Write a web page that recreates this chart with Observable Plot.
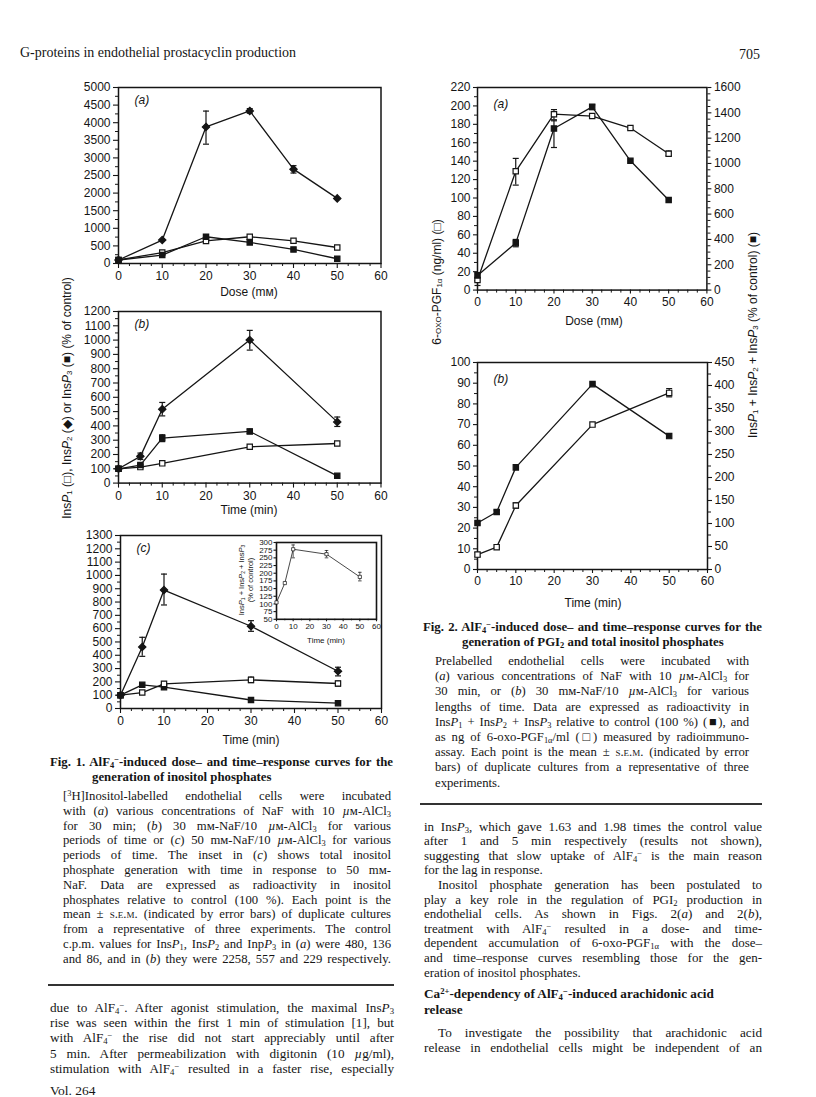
<!DOCTYPE html>
<html><head><meta charset="utf-8">
<script src="https://cdn.jsdelivr.net/npm/d3@7"></script>
<script src="https://cdn.jsdelivr.net/npm/@observablehq/plot@0.6"></script>
<style>
html,body{margin:0;padding:0;background:#fff;}
#page{position:relative;width:816px;height:1097px;overflow:hidden;background:#fff;}
.t{position:absolute;white-space:nowrap;font-family:"Liberation Serif","Times New Roman",serif;color:#151515;line-height:12px;}
.j{white-space:normal;text-align:justify;text-align-last:justify;}
.lab{position:absolute;font-family:"Liberation Sans",Arial,sans-serif;font-size:12px;white-space:nowrap;color:#151515;transform:translate(-50%,-50%);text-align:center;line-height:13px;}
.rot{transform:translate(-50%,-50%) rotate(-90deg);}
sub,sup{font-size:66%;line-height:0;}
sub{vertical-align:-0.22em;}
sup{vertical-align:0.42em;}
.sc{font-variant:small-caps;}
.rule{position:absolute;height:1.6px;background:#333;}
</style>
</head><body><div id="page"></div>
<script>
// ---------------- DATA ----------------
// Fig. 1(a): dose of NaF (mM) vs % of control
const fig1aDose = [0, 10, 20, 30, 40, 50];
const fig1aInsP1 = [100, 310, 640, 760, 645, 455];
const fig1aInsP2 = [100, 665, 3880, 4335, 2680, 1850];
const fig1aInsP3 = [100, 240, 760, 600, 400, 135];
const fig1aInsP2Err = [null, null, [3390, 4330], [4270, 4400], [2570, 2780], null];
const fig1aInsP3Err = [null, null, [705, 810], null, null, null];

// Fig. 1(b): time (min)
const fig1bTime = [0, 5, 10, 30, 50];
const fig1bInsP1 = [100, 112, 138, 254, 277];
const fig1bInsP2 = [100, 187, 517, 1000, 428];
const fig1bInsP3 = [100, 126, 315, 361, 51];
const fig1bInsP2Err = [null, [165, 210], [470, 564], [930, 1068], [396, 462]];
const fig1bInsP3Err = [null, [110, 140], [290, 338], [347, 378], null];

// Fig. 1(c): time (min)
const fig1cTime = [0, 5, 10, 30, 50];
const fig1cInsP1 = [100, 120, 185, 215, 188];
const fig1cInsP2 = [100, 462, 890, 618, 280];
const fig1cInsP3 = [100, 178, 160, 64, 40];
const fig1cInsP1Err = [null, null, [170, 200], [195, 236], [168, 206]];
const fig1cInsP2Err = [null, [392, 535], [778, 1010], [580, 660], [245, 310]];

// Fig. 1(c) inset: total InsP (% of control)
const insetTime = [0, 5, 10, 30, 50];
const insetTotal = [105, 168, 278, 262, 188];
const insetTotalErr = [null, null, [250, 292], [250, 274], [175, 203]];

// Fig. 2(a): dose (mM); 6-oxo-PGF1a (ng/ml) and total InsP (% of control)
const fig2aDose = [0, 10, 20, 30, 40, 50];
const fig2aOxo = [11, 129, 191, 189, 176, 148];
const fig2aOxoErr = [[5, 19], [114, 143], [185, 196], null, null, [146, 151]];
const fig2aInsP = [116, 371, 1276, 1447, 1021, 711];
const fig2aInsPErr = [null, [342, 400], [1126, 1337], [1426, 1463], null, null];

// Fig. 2(b): time (min)
const fig2bTime = [0, 5, 10, 30, 50];
const fig2bOxo = [7.2, 10.8, 30.9, 70, 85.3];
const fig2bOxoErr = [[6.1, 8.2], null, [29.6, 32.2], null, [83.4, 87.4]];
const fig2bInsP = [101, 125, 222, 403, 290];
const fig2bInsPErr = [null, [120, 129], null, null, null];

// Axis ticks
const fig1aYTicks = d3.range(0, 5001, 500);
const fig1bYTicks = d3.range(0, 1201, 100);
const fig1cYTicks = d3.range(0, 1301, 100);
const insetYTicks = d3.range(50, 301, 25);
const xTicks60 = d3.range(0, 61, 10);
const fig2aLeftTicks = d3.range(0, 221, 20);
const fig2aRightTicks = d3.range(0, 1601, 200);
const fig2bLeftTicks = d3.range(0, 101, 10);
const fig2bRightTicks = d3.range(0, 451, 50);

// ---------------- HELPERS ----------------
const page = document.getElementById("page");
const INK = "#151515";
const cap = {draw(ctx, size) { const w = Math.sqrt(size) / 2; ctx.moveTo(-w, 0); ctx.lineTo(w, 0); }};

function rows(xs, ys, errs) {
  return xs.map((x, i) => ({x, y: ys[i], lo: errs && errs[i] ? errs[i][0] : null, hi: errs && errs[i] ? errs[i][1] : null}));
}
function series(xs, ys, errs, kind, s = 1) {
  const data = rows(xs, ys, errs);
  const ed = data.filter(d => d.lo != null);
  const sym = kind === "diamond" ? "diamond2" : "square";
  return [
    Plot.line(data, {x: "x", y: "y", stroke: INK, strokeWidth: 1.3 * s}),
    Plot.ruleX(ed, {x: "x", y1: "lo", y2: "hi", stroke: INK, strokeWidth: 1.2 * s}),
    Plot.dot(ed, {x: "x", y: "lo", symbol: cap, r: 3.4 * s, fill: "none", stroke: INK, strokeWidth: 1.2 * s}),
    Plot.dot(ed, {x: "x", y: "hi", symbol: cap, r: 3.4 * s, fill: "none", stroke: INK, strokeWidth: 1.2 * s}),
    Plot.dot(data, {x: "x", y: "y", symbol: sym, r: (kind === "diamond" ? 3.3 : 3.0) * s,
      fill: kind === "open" ? "white" : INK, stroke: INK, strokeWidth: 1.2 * s})
  ];
}
const ML = 45, MR = 45, MT = 10, MB = 30;
const fmt = d => String(d);
function minorOf(major, n) {
  const out = [];
  for (let i = 0; i < major.length - 1; i++) {
    const a = major[i], b = major[i + 1];
    for (let k = 1; k < n; k++) out.push(a + (b - a) * k / n);
  }
  return out;
}
function panel(o) {
  const w = o.x1 - o.x0, h = o.y1 - o.y0;
  const fs = o.fontSize || 12;
  const tk = o.tick || 5, mt = o.minorTick || 3;
  const marks = [];
  if (o.frame !== false) marks.push(Plot.frame({stroke: INK, strokeWidth: o.frameWidth || 1.5}));
  if (o.xAxis !== false) {
    marks.push(Plot.axisX({ticks: o.xMajor, tickSize: tk, tickPadding: o.tickPad || 3, tickFormat: fmt, label: null, fontSize: fs, stroke: INK, strokeWidth: 1.1}));
    marks.push(Plot.axisX({ticks: minorOf(o.xMajor, o.xMinorN || 4), tickSize: mt, tickFormat: () => "", label: null, stroke: INK}));
  }
  marks.push(Plot.axisY({ticks: o.yMajor, anchor: o.yAnchor || "left", tickSize: tk, tickPadding: o.tickPad || 3, tickFormat: fmt, label: null, fontSize: fs, stroke: INK, strokeWidth: 1.1}));
  if (o.yMinorN !== 1) marks.push(Plot.axisY({ticks: minorOf(o.yMajor, o.yMinorN || 2), anchor: o.yAnchor || "left", tickSize: mt, tickFormat: () => "", label: null, stroke: INK}));
  if (o.label) marks.push(Plot.text([o.label], {text: d => d, frameAnchor: "top-left", dx: o.labelDx || 16, dy: o.labelDy || 8,
    textAnchor: "start", lineAnchor: "top", fontStyle: "italic", fontSize: 12, fill: INK}));
  marks.push(...o.marks);
  const p = Plot.plot({
    width: w + ML + MR, height: h + MT + MB,
    marginLeft: ML, marginRight: MR, marginTop: MT, marginBottom: MB,
    x: {domain: o.xDomain, ...(o.xAxis === false ? {axis: null} : {})},
    y: {domain: o.yDomain},
    style: {fontFamily: "'Liberation Sans', Arial, sans-serif", fontSize: fs + "px", background: "transparent", color: INK, overflow: "visible"},
    marks
  });
  p.style.position = "absolute";
  p.style.left = (o.x0 - ML) + "px";
  p.style.top = (o.y0 - MT) + "px";
  p.style.maxWidth = "none";
  page.appendChild(p);
  return p;
}

// ---------------- FIG. 1 ----------------
panel({x0: 117.5, x1: 380, y0: 86.7, y1: 262.7, xDomain: [0, 60], yDomain: [0, 5000],
  xMajor: xTicks60, yMajor: fig1aYTicks, label: "(a)",
  marks: [
    ...series(fig1aDose, fig1aInsP1, null, "open"),
    ...series(fig1aDose, fig1aInsP3, fig1aInsP3Err, "filled"),
    ...series(fig1aDose, fig1aInsP2, fig1aInsP2Err, "diamond")
  ]});
panel({x0: 117.5, x1: 380, y0: 310.7, y1: 482.3, xDomain: [0, 60], yDomain: [0, 1200],
  xMajor: xTicks60, yMajor: fig1bYTicks, label: "(b)",
  marks: [
    ...series(fig1bTime, fig1bInsP1, null, "open"),
    ...series(fig1bTime, fig1bInsP3, fig1bInsP3Err, "filled"),
    ...series(fig1bTime, fig1bInsP2, fig1bInsP2Err, "diamond")
  ]});
panel({x0: 119.5, x1: 380.5, y0: 535, y1: 708, xDomain: [0, 60], yDomain: [0, 1300],
  xMajor: xTicks60, yMajor: fig1cYTicks, label: "(c)",
  marks: [
    ...series(fig1cTime, fig1cInsP3, null, "filled"),
    ...series(fig1cTime, fig1cInsP1, fig1cInsP1Err, "open"),
    ...series(fig1cTime, fig1cInsP2, fig1cInsP2Err, "diamond")
  ]});
// inset
panel({x0: 276, x1: 376, y0: 541.5, y1: 618.3, xDomain: [0, 60], yDomain: [50, 300],
  xMajor: xTicks60, yMajor: insetYTicks, fontSize: 8, tick: 2.5, minorTick: 1.5, tickPad: 1.5, xMinorN: 2, yMinorN: 1,
  frameWidth: 1.6,
  marks: [...series(insetTime, insetTotal, insetTotalErr, "open", 0.6)]});

// ---------------- FIG. 2 ----------------
panel({x0: 477.3, x1: 706.7, y0: 86.7, y1: 289.3, xDomain: [0, 60], yDomain: [0, 220],
  xMajor: xTicks60, yMajor: fig2aLeftTicks, label: "(a)", labelDy: 12, tick: 4, tickPad: 3,
  marks: [...series(fig2aDose, fig2aOxo, fig2aOxoErr, "open")]});
panel({x0: 477.3, x1: 706.7, y0: 86.7, y1: 289.3, xDomain: [0, 60], yDomain: [0, 1600],
  xAxis: false, frame: false, yAnchor: "right", yMajor: fig2aRightTicks, yMinorN: 4, tick: 4, tickPad: 3,
  marks: [...series(fig2aDose, fig2aInsP, fig2aInsPErr, "filled")]});
panel({x0: 477.3, x1: 707.3, y0: 362.3, y1: 569.3, xDomain: [0, 60], yDomain: [0, 100],
  xMajor: xTicks60, yMajor: fig2bLeftTicks, label: "(b)", labelDy: 12, tick: 4, tickPad: 3,
  marks: [...series(fig2bTime, fig2bOxo, fig2bOxoErr, "open")]});
panel({x0: 477.3, x1: 707.3, y0: 362.3, y1: 569.3, xDomain: [0, 60], yDomain: [0, 450],
  xAxis: false, frame: false, yAnchor: "right", yMajor: fig2bRightTicks, yMinorN: 2, tick: 4, tickPad: 3,
  marks: [...series(fig2bTime, fig2bInsP, fig2bInsPErr, "filled")]});

// ---------------- AXIS TITLES ----------------
function lab(html, cx, cy, opts = {}) {
  const d = document.createElement("div");
  d.className = "lab" + (opts.rot ? " rot" : "");
  d.innerHTML = html;
  d.style.left = cx + "px"; d.style.top = cy + "px";
  if (opts.fs) d.style.fontSize = opts.fs + "px";
  if (opts.lh) d.style.lineHeight = opts.lh + "px";
  page.appendChild(d);
}
const insP = n => `Ins<i>P</i><sub>${n}</sub>`;
lab("Dose (mм)", 249, 292);
lab("Time (min)", 249, 510);
lab("Time (min)", 251, 740);
lab("Time (min)", 326, 640, {fs: 8, lh: 9});
lab(`${insP(1)} + ${insP(2)} + ${insP(3)}<br>(% of control)`, 246, 580, {rot: true, fs: 7.5, lh: 9});
lab(`${insP(1)} (□), ${insP(2)} (◆) or ${insP(3)} (■) (% of control)`, 67, 398, {rot: true});
lab("Dose (mм)", 594, 321);
lab("Time (min)", 593, 603);
lab(`6-<span class="sc">oxo</span>-PGF<sub>1α</sub> (ng/ml) (□)`, 437, 282, {rot: true});
lab(`${insP(1)} + ${insP(2)} + ${insP(3)} (% of control) (■)`, 753, 335, {rot: true});

// ---------------- PAGE TEXT ----------------
function addLine(html, x, yc, w, fs, justify, bold) {
  const d = document.createElement("div");
  d.className = "t" + (w && justify ? " j" : "");
  d.innerHTML = html;
  d.style.left = x + "px"; d.style.top = (yc - 6) + "px";
  d.style.fontSize = fs + "px";
  if (w) d.style.width = w + "px";
  if (bold) d.style.fontWeight = "bold";
  page.appendChild(d);
  return d;
}
function block(lines, x, y0, dy, w, fs, opts = {}) {
  const ind = opts.indent || {};
  const nj = opts.noJustify || [];
  const els = lines.map((h, i) => addLine(h, x + (ind[i] || 0), y0 + i * dy, w - (ind[i] || 0), fs, !nj.includes(i), opts.bold));
  let f = fs;
  const over = () => els.some(e => e.scrollHeight > 20 || e.scrollWidth > w + 1);
  while (over() && f > 8) { f -= 0.25; els.forEach(e => e.style.fontSize = f + "px"); }
}
const AlF4 = `AlF<sub>4</sub><sup>−</sup>`;
const uM = `<i>µ</i>м`;

const header = "G-proteins in endothelial prostacyclin production";
const pageNo = "705";
const fig1Title = [`Fig. 1. ${AlF4}-induced dose– and time–response curves for the`, `generation of inositol phosphates`];
const fig1Legend = [
  `[<sup>3</sup>H]Inositol-labelled endothelial cells were incubated`,
  `with (<i>a</i>) various concentrations of NaF with 10 ${uM}-AlCl<sub>3</sub>`,
  `for 30 min; (<i>b</i>) 30 mм-NaF/10 ${uM}-AlCl<sub>3</sub> for various`,
  `periods of time or (<i>c</i>) 50 mм-NaF/10 ${uM}-AlCl<sub>3</sub> for various`,
  `periods of time. The inset in (<i>c</i>) shows total inositol`,
  `phosphate generation with time in response to 50 mм-`,
  `NaF. Data are expressed as radioactivity in inositol`,
  `phosphates relative to control (100 %). Each point is the`,
  `mean ± <span class="sc">s.e.m.</span> (indicated by error bars) of duplicate cultures`,
  `from a representative of three experiments. The control`,
  `c.p.m. values for ${insP(1)}, ${insP(2)} and Inp<i>P</i><sub>3</sub> in (<i>a</i>) were 480, 136`,
  `and 86, and in (<i>b</i>) they were 2258, 557 and 229 respectively.`
];
const leftBody = [
  `due to ${AlF4}. After agonist stimulation, the maximal ${insP(3)}`,
  `rise was seen within the first 1 min of stimulation [1], but`,
  `with ${AlF4} the rise did not start appreciably until after`,
  `5 min. After permeabilization with digitonin (10 <i>µ</i>g/ml),`,
  `stimulation with ${AlF4} resulted in a faster rise, especially`
];
const fig2Title = [`Fig. 2. ${AlF4}-induced dose– and time–response curves for the`, `generation of PGI<sub>2</sub> and total inositol phosphates`];
const fig2Legend = [
  `Prelabelled endothelial cells were incubated with`,
  `(<i>a</i>) various concentrations of NaF with 10 ${uM}-AlCl<sub>3</sub> for`,
  `30 min, or (<i>b</i>) 30 mм-NaF/10 ${uM}-AlCl<sub>3</sub> for various`,
  `lengths of time. Data are expressed as radioactivity in`,
  `${insP(1)} + ${insP(2)} + ${insP(3)} relative to control (100 %) (■), and`,
  `as ng of 6-oxo-PGF<sub>1α</sub>/ml (□) measured by radioimmuno-`,
  `assay. Each point is the mean ± <span class="sc">s.e.m.</span> (indicated by error`,
  `bars) of duplicate cultures from a representative of three`,
  `experiments.`
];
const rightBody = [
  `in ${insP(3)}, which gave 1.63 and 1.98 times the control value`,
  `after 1 and 5 min respectively (results not shown),`,
  `suggesting that slow uptake of ${AlF4} is the main reason`,
  `for the lag in response.`,
  `Inositol phosphate generation has been postulated to`,
  `play a key role in the regulation of PGI<sub>2</sub> production in`,
  `endothelial cells. As shown in Figs. 2(<i>a</i>) and 2(<i>b</i>),`,
  `treatment with ${AlF4} resulted in a dose- and time-`,
  `dependent accumulation of 6-oxo-PGF<sub>1α</sub> with the dose–`,
  `and time–response curves resembling those for the gen-`,
  `eration of inositol phosphates.`
];
const rightHeading = [`Ca<sup>2+</sup>-dependency of ${AlF4}-induced arachidonic acid`, `release`];
const rightBody2 = [
  `To investigate the possibility that arachidonic acid`,
  `release in endothelial cells might be independent of an`
];
const footer = "Vol. 264";

addLine(header, 20, 53, 0, 14, false, false);
addLine(pageNo, 739, 55, 0, 14, false, false);

block([fig1Title[0]], 50, 761.5, 14, 343, 12.8, {bold: true});
addLine(fig1Title[1], 92, 777, 0, 12.8, false, true);
block(fig1Legend, 63, 796, 14.8, 328, 12.7);
let r1 = document.createElement("div"); r1.className = "rule";
r1.style.left = "48px"; r1.style.width = "346px"; r1.style.top = "984px"; page.appendChild(r1);
block(leftBody, 50, 1008, 15.2, 344, 13.2);
addLine(footer, 50, 1091, 0, 13.5, false, false);

block([fig2Title[0]], 423, 626.5, 14, 339, 12.8, {bold: true});
addLine(fig2Title[1], 462, 642, 0, 12.8, false, true);
block(fig2Legend, 435, 661, 15.2, 314, 12.7, {noJustify: [8]});
let r2 = document.createElement("div"); r2.className = "rule";
r2.style.left = "420px"; r2.style.width = "342px"; r2.style.top = "803px"; page.appendChild(r2);
block(rightBody, 424, 826.5, 14.6, 338, 13, {noJustify: [3, 10], indent: {4: 14}});
block(rightHeading, 424, 994, 15.5, 338, 13.2, {bold: true, noJustify: [0, 1]});
block(rightBody2, 424, 1033, 15, 338, 13.2, {indent: {0: 14}});
</script>
</body></html>
